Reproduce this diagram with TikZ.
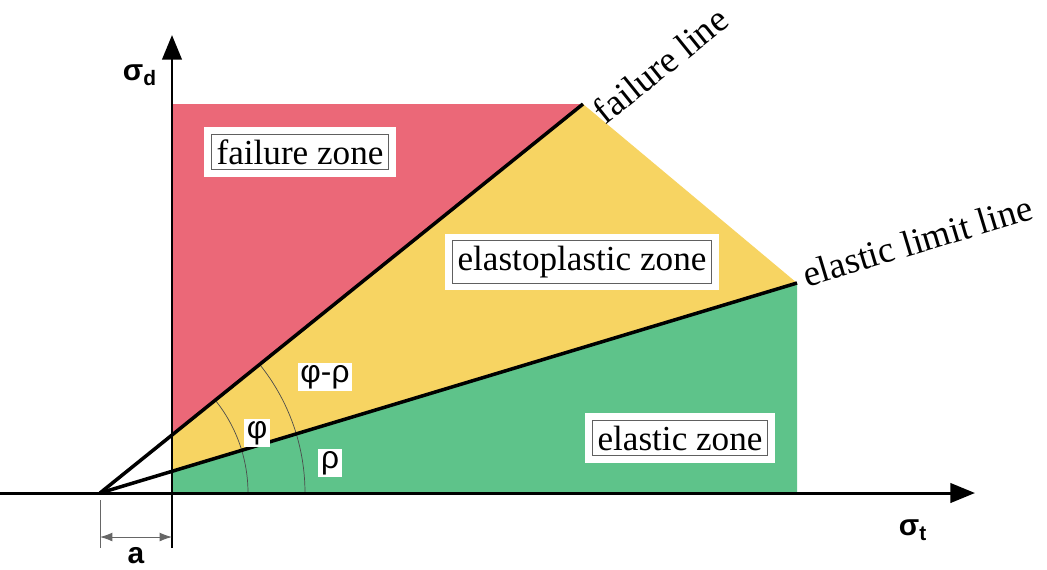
\documentclass[tikz,border=0pt]{standalone}
\usepackage{fontspec}
\setmainfont{Liberation Serif}
\newfontfamily\gsans{Liberation Sans}
\usetikzlibrary{arrows.meta}
\definecolor{zred}{HTML}{EB6878}
\definecolor{zyellow}{HTML}{F7D462}
\definecolor{zgreen}{HTML}{5EC38A}
\definecolor{boxedge}{HTML}{606060}
\tikzset{
  axis/.style={line width=1.7pt, -{Triangle[length=14pt,width=11pt]}},
  critline/.style={line width=2pt, black},
  zonebox/.style={draw=boxedge, line width=0.6pt, fill=white, inner sep=3pt,
    font=\fontsize{20}{22}\selectfont, preaction={draw=white, line width=8pt}},
  linelabel/.style={font=\fontsize{21}{23}\selectfont, inner sep=0pt},
  anglelabel/.style={fill=white, inner sep=1.5pt, font=\gsans\fontsize{18}{20}\selectfont},
  anglearc/.style={draw=black!70, line width=0.4pt},
  axlabel/.style={font=\gsans\bfseries\fontsize{17}{19}\selectfont},
  dimline/.style={draw=black!60, line width=0.5pt}
}
\begin{document}
\begin{tikzpicture}[x=0.02cm, y=-0.02cm]
\useasboundingbox (0,0) rectangle (1047,569);
% key points
\coordinate (O) at (100,493);
\coordinate (Y0) at (172,493);
\coordinate (Ytop) at (172,104);
\coordinate (Ff) at (583,104);
\coordinate (Fe) at (797,283);
\coordinate (Bri) at (797,493);
\coordinate (Fy) at (172,435);
\coordinate (Ey) at (172,471.3);
% zones
\fill[zred] (Ytop) -- (Ff) -- (Fy) -- cycle;
\fill[zyellow] (Fy) -- (Ff) -- (Fe) -- (Ey) -- cycle;
\fill[zgreen] (Ey) -- (Fe) -- (Bri) -- (Y0) -- cycle;
% angle arcs
\draw[anglearc] (248,493) arc[start angle=0, end angle=-38.85, radius=148];
\draw[anglearc] (305,493) arc[start angle=0, end angle=-38.85, radius=205];
% lines
\draw[critline] (O) -- (Ff);
\draw[critline] (O) -- (Fe);
% axes
\coordinate (xs) at (0,493);
\coordinate (xe) at (975,493);
\coordinate (ys) at (172,548);
\coordinate (ye) at (172,35);
\draw[axis] (xs) -- (xe);
\draw[axis] (ys) -- (ye);
% dimension a
\coordinate (d1) at (100,500);
\coordinate (d2) at (100,548);
\coordinate (a1) at (100,537);
\coordinate (a2) at (172,537);
\draw[dimline] (d1) -- (d2);
\draw[dimline, {Latex[length=7pt,width=5pt]}-{Latex[length=7pt,width=5pt]}] (a1) -- (a2);
\node[axlabel] (alab) at (136,556) {a};
% axis labels
\node[axlabel] (sd) at (140,75) {σ\textsubscript{d}};
\node[axlabel] (st) at (913,530) {σ\textsubscript{t}};
% zone labels
\node[zonebox] (fz) at (300,152) {failure zone};
\node[zonebox] (ez) at (582,262) {elastoplastic zone};
\node[zonebox] (elz) at (680,438) {elastic zone};
% line labels
\node[linelabel, rotate=38.85, anchor=south west] (fl) at (606,126) {failure line};
\node[linelabel, rotate=16.8, anchor=south west] (el) at (807,288) {elastic limit line};
% angle labels
\node[anglelabel] (phi) at (257,433) {φ};
\node[anglelabel] (phirho) at (325,377) {φ-ρ};
\node[anglelabel] (rho) at (330,463) {ρ};
\end{tikzpicture}
\end{document}
